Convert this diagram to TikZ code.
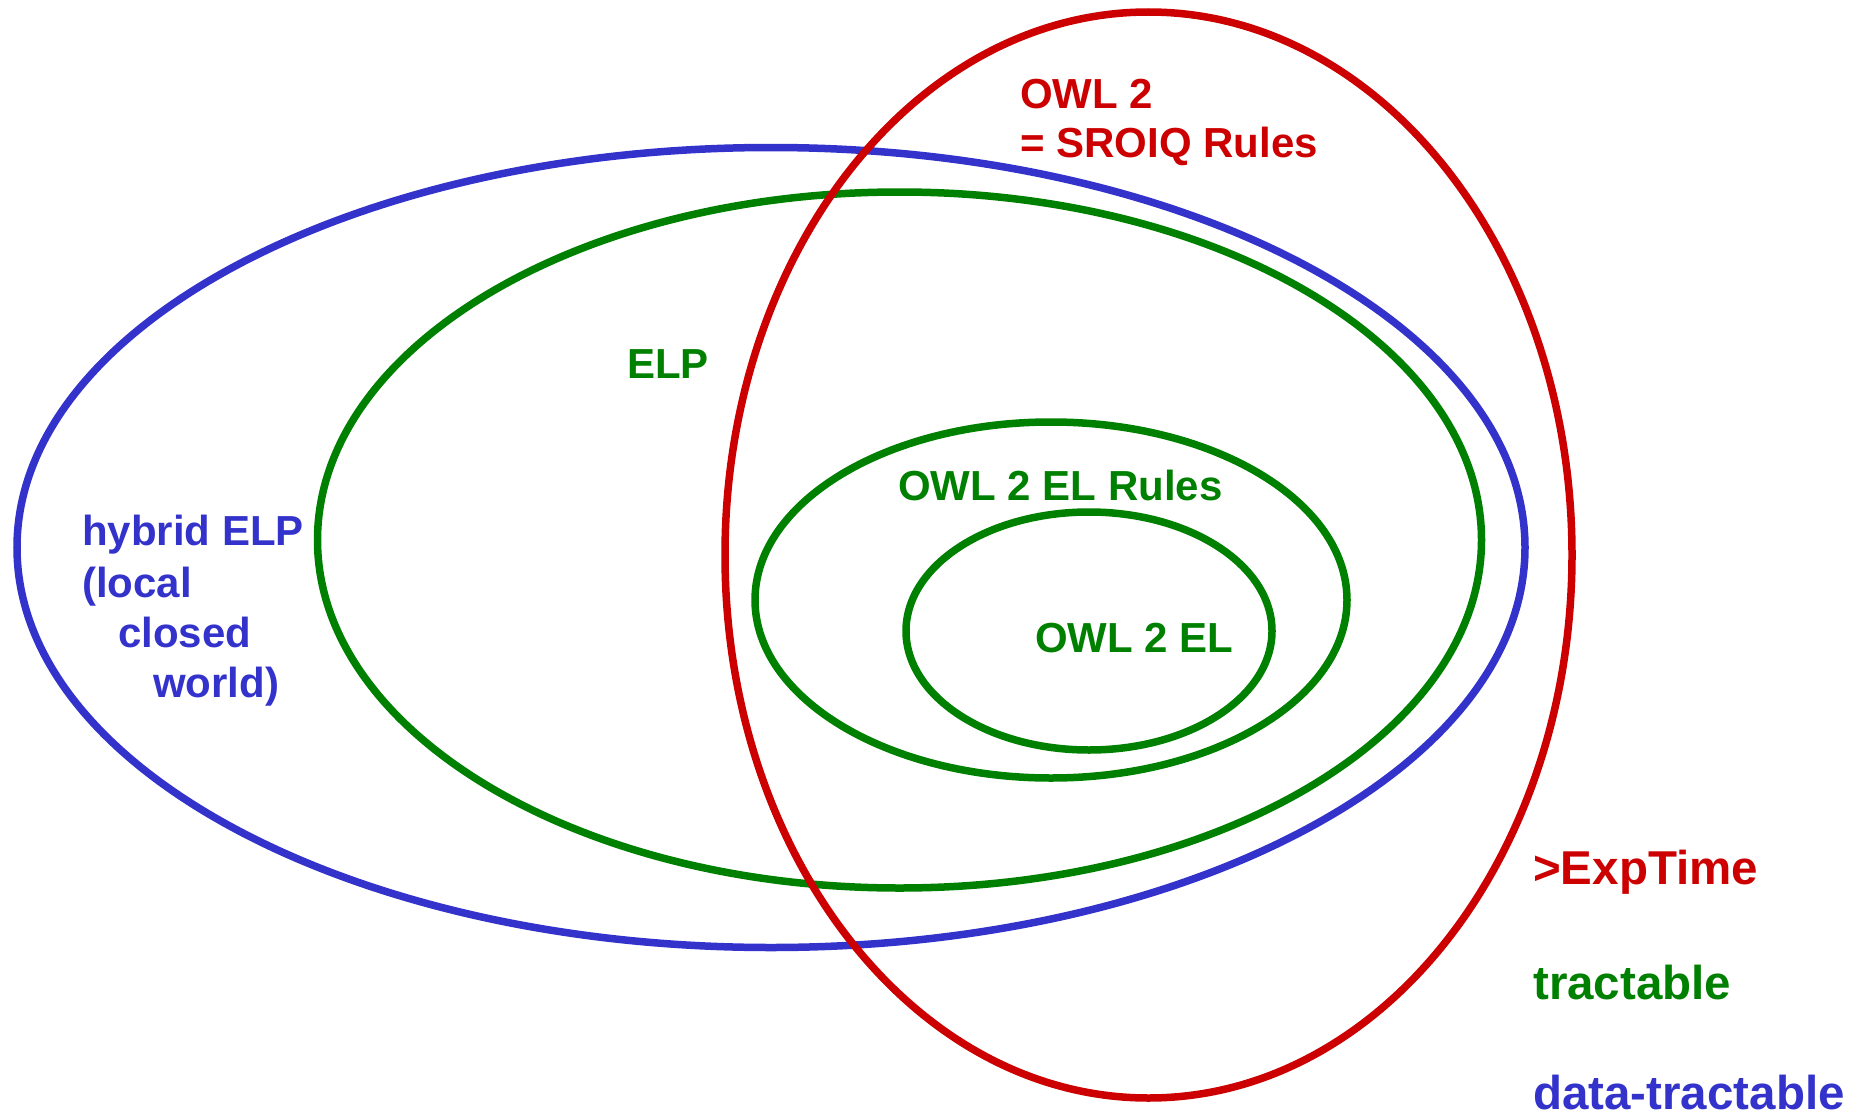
\documentclass[tikz,border=0pt]{standalone}
\usepackage{fontspec}
\setmainfont{Liberation Sans}
\definecolor{owlred}{HTML}{CC0000}
\definecolor{owlgreen}{HTML}{008000}
\definecolor{owlblue}{HTML}{3333CC}
\begin{document}
\begin{tikzpicture}[x=1pt,y=-1pt,
  ring/.style={line width=7.5pt},
  lbl/.style={anchor=base west,inner sep=0pt,font=\fontsize{42}{42}\selectfont\bfseries},
  legend/.style={anchor=base west,inner sep=0pt,font=\fontsize{47.5}{48}\selectfont\bfseries}]
\useasboundingbox (0,0) rectangle (1858,1116);
\draw[ring,owlblue] (771,547.5) ellipse [x radius=754,y radius=400];
\draw[ring,owlgreen] (899.5,540) ellipse [x radius=582,y radius=348];
\draw[ring,owlgreen] (1051,600) ellipse [x radius=296,y radius=178];
\draw[ring,owlgreen] (1089,631) ellipse [x radius=183,y radius=119];
\draw[ring,owlred] (1148.5,555) ellipse [x radius=423.5,y radius=543];
\node[lbl,owlred] (owl2) at (1020,108) {OWL 2};
\node[lbl,owlred] (sroiq) at (1020,157) {= SROIQ Rules};
\node[lbl,owlgreen] (elp) at (627,378) {ELP};
\node[lbl,owlgreen] (elrules) at (898,500) {OWL 2 EL Rules};
\node[lbl,owlgreen] (el) at (1035,652) {OWL 2 EL};
\node[lbl,owlblue] (h1) at (82,545) {hybrid ELP};
\node[lbl,owlblue] (h2) at (82,597) {(local};
\node[lbl,owlblue] (h3) at (118,647) {closed};
\node[lbl,owlblue] (h4) at (153,697) {world)};
\node[legend,owlred] (exp) at (1533,884) {>ExpTime};
\node[legend,owlgreen] (tract) at (1533,999) {tractable};
\node[legend,owlblue] (dtract) at (1533,1109) {data-tractable};
\end{tikzpicture}
\end{document}
